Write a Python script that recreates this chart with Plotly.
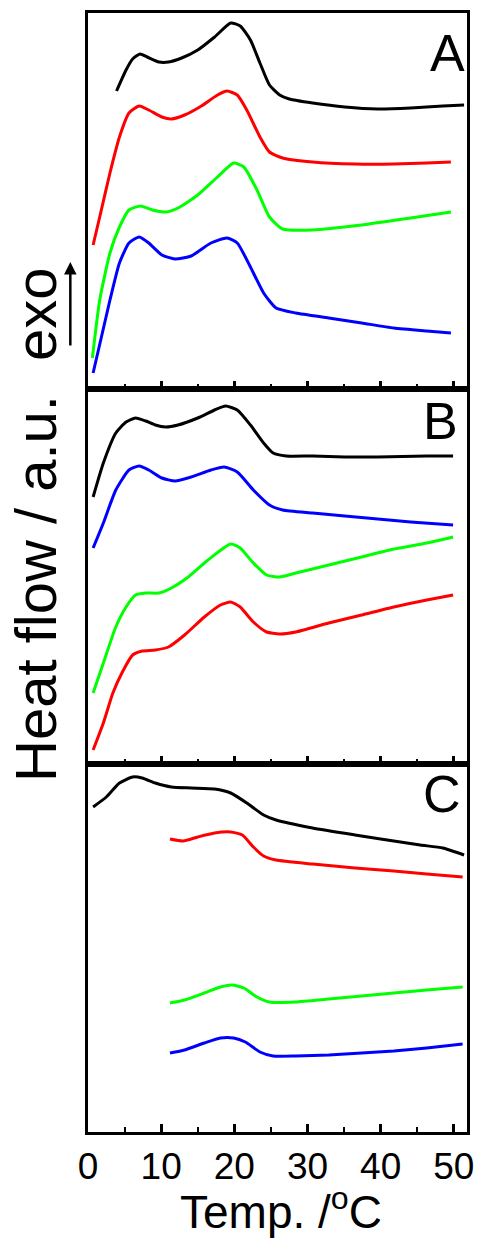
import plotly.graph_objects as go
from plotly.subplots import make_subplots

FONT = "Liberation Sans, Arial, sans-serif"

# ---------------- Data (Temp. in degC, heat flow in a.u., offset per curve) ----------------
# Panel A
a_black_x = [3.9, 5.2, 6.1, 7.1, 8.1, 9.7, 11.0, 12.8, 15.0, 17.3, 19.5, 20.8, 22.2, 23.5, 24.8, 26.2, 27.5, 30.7, 35.1, 39.6, 44.1, 48.5, 51.4]
a_black_y = [298, 319, 330, 335, 332, 327, 327, 331, 339, 352, 366, 363, 349, 326, 304, 294, 290, 286, 282, 280, 281, 283, 284]

a_red_x = [0.7, 1.6, 3.0, 4.3, 5.6, 7.0, 8.3, 10.1, 11.4, 13.2, 15.5, 17.7, 19.0, 20.4, 21.7, 23.5, 24.8, 26.6, 30.7, 36.5, 41.8, 46.3, 49.6]
a_red_y = [144, 172, 216, 252, 276, 283, 279, 272, 270, 274, 283, 294, 298, 294, 279, 252, 237, 231, 227, 225, 225, 226, 227]

a_green_x = [0.6, 1.6, 3.0, 4.3, 5.6, 7.2, 8.8, 10.6, 12.3, 15.0, 17.7, 19.9, 21.3, 23.1, 24.8, 26.6, 30.7, 37.4, 44.1, 49.6]
a_green_y = [31, 89, 136, 162, 179, 183, 179, 177, 181, 194, 212, 226, 222, 199, 172, 160, 159, 164, 171, 177]

a_blue_x = [0.7, 3.0, 4.3, 5.6, 7.0, 8.3, 10.1, 11.9, 14.1, 16.8, 19.0, 20.4, 22.2, 24.0, 25.7, 28.4, 32.9, 37.4, 41.8, 46.3, 49.6]
a_blue_y = [16, 89, 126, 146, 152, 146, 134, 130, 133, 146, 151, 146, 122, 96, 81, 76, 71, 66, 61, 58, 56]

# Panel B
b_black_x = [0.7, 2.1, 3.8, 5.2, 6.5, 7.9, 9.2, 10.6, 12.3, 15.0, 17.3, 18.8, 20.4, 22.2, 24.0, 25.3, 27.1, 30.7, 35.1, 39.6, 46.3, 49.9]
b_black_y = [267, 301, 331, 342, 346, 343, 339, 337, 339, 346, 354, 358, 354, 339, 321, 311, 308, 308, 307, 307, 308, 308]

b_blue_x = [0.7, 2.1, 3.8, 5.6, 7.0, 8.3, 10.1, 11.9, 14.1, 16.8, 18.6, 20.4, 22.6, 24.8, 26.6, 30.7, 35.1, 39.6, 44.1, 49.9]
b_blue_y = [216, 241, 274, 294, 298, 294, 286, 283, 287, 294, 297, 292, 274, 259, 254, 251, 248, 245, 242, 239]

b_green_x = [0.7, 2.1, 3.8, 5.2, 6.5, 7.9, 9.7, 11.4, 13.7, 16.4, 19.5, 20.8, 22.6, 24.4, 26.2, 28.4, 32.9, 37.4, 41.8, 46.3, 49.9]
b_green_y = [71, 101, 137, 157, 169, 171, 171, 176, 187, 204, 220, 216, 201, 189, 187, 191, 199, 207, 215, 221, 227]

b_red_x = [0.7, 2.1, 3.4, 4.7, 6.1, 7.4, 9.2, 11.0, 13.2, 15.9, 18.1, 19.5, 20.8, 22.6, 24.4, 26.2, 28.4, 32.9, 37.4, 41.8, 46.3, 49.9]
b_red_y = [14, 41, 71, 92, 109, 113, 114, 117, 129, 147, 159, 162, 157, 142, 132, 130, 132, 141, 149, 157, 164, 169]

# Panel C
c_black_x = [0.7, 2.5, 4.3, 6.1, 7.4, 9.2, 11.4, 14.1, 17.3, 19.5, 21.7, 24.0, 25.7, 30.7, 36.5, 40.0, 45.4, 48.5, 51.4]
c_black_y = [325, 335, 349, 355, 354, 349, 345, 344, 343, 339, 329, 317, 312, 304, 297, 293, 287, 284, 277]

c_red_x = [11.2, 13.0, 15.0, 17.3, 19.5, 21.1, 22.6, 24.0, 25.7, 30.7, 36.5, 41.8, 46.3, 51.2]
c_red_y = [293, 291, 295, 299, 300, 297, 285, 276, 272, 268, 264, 261, 258, 255]

c_green_x = [11.2, 13.2, 15.9, 18.1, 19.7, 21.3, 23.1, 24.8, 28.4, 32.9, 37.4, 41.8, 46.3, 51.2]
c_green_y = [129, 132, 139, 145, 147, 144, 135, 130, 130, 133, 136, 139, 142, 145]

c_blue_x = [11.2, 13.2, 15.9, 18.1, 19.9, 21.5, 23.5, 25.3, 28.4, 32.9, 37.4, 41.8, 46.3, 51.2]
c_blue_y = [79, 82, 89, 94, 94, 90, 80, 76, 76, 77, 79, 81, 84, 88]

tick_vals = [0, 10, 20, 30, 40, 50]
tick_text = ["0", "10", "20", "30", "40", "50"]
panel_labels = ["A", "B", "C"]
panel_heights = [376, 375, 368]

BLACK, RED, GREEN, BLUE = "#000000", "#ff0000", "#00ff00", "#0000ff"

panels = [
    [(a_black_x, a_black_y, BLACK), (a_red_x, a_red_y, RED), (a_green_x, a_green_y, GREEN), (a_blue_x, a_blue_y, BLUE)],
    [(b_black_x, b_black_y, BLACK), (b_blue_x, b_blue_y, BLUE), (b_green_x, b_green_y, GREEN), (b_red_x, b_red_y, RED)],
    [(c_black_x, c_black_y, BLACK), (c_red_x, c_red_y, RED), (c_green_x, c_green_y, GREEN), (c_blue_x, c_blue_y, BLUE)],
]

fig = make_subplots(rows=3, cols=1, shared_xaxes=True, vertical_spacing=0,
                    row_heights=panel_heights)

for r, curves in enumerate(panels, start=1):
    for xs, ys, col in curves:
        fig.add_trace(go.Scatter(x=xs, y=ys, mode="lines",
                                 line=dict(color=col, width=3, shape="spline", smoothing=0.55),
                                 showlegend=False, hoverinfo="skip"),
                      row=r, col=1)
    fig.update_yaxes(range=[0, panel_heights[r - 1]], showline=True, linecolor="black",
                     linewidth=3, mirror=True, showgrid=False, zeroline=False,
                     showticklabels=False, ticks="", row=r, col=1)
    fig.update_xaxes(range=[0, 51.8], showline=True, linecolor="black", linewidth=3,
                     mirror=True, showgrid=False, zeroline=False,
                     ticks="inside", ticklen=8, tickwidth=2.5, tickcolor="black",
                     tickvals=tick_vals, ticktext=tick_text,
                     minor=dict(ticks="inside", dtick=5, tick0=0, ticklen=5,
                                tickwidth=2, tickcolor="black", showgrid=False),
                     row=r, col=1)

fig.update_xaxes(showticklabels=True, tickfont=dict(family=FONT, size=37, color="black"),
                 row=3, col=1)

W, H = 484, 1240
L, R, T, B = 88, 10, 13, 108
pw, ph = W - L - R, H - T - B


def px(x):
    return (x - L) / pw


def py(y):
    return (H - B - y) / ph


annotations = []
label_pos = [(454, 53), (447, 421), (449, 794)]
for lab, (lx, ly) in zip(panel_labels, label_pos):
    annotations.append(dict(x=px(lx), y=py(ly), xref="paper", yref="paper", text=lab,
                            showarrow=False, xanchor="center", yanchor="middle",
                            font=dict(family=FONT, size=52, color="black")))

annotations.append(dict(x=px(34), y=py(588), xref="paper", yref="paper",
                        text="Heat flow / a.u.", textangle=-90, showarrow=False,
                        xanchor="center", yanchor="middle",
                        font=dict(family=FONT, size=58, color="black")))
annotations.append(dict(x=px(34), y=py(314), xref="paper", yref="paper",
                        text="exo", textangle=-90, showarrow=False,
                        xanchor="center", yanchor="middle",
                        font=dict(family=FONT, size=58, color="black")))
annotations.append(dict(x=px(70), y=py(262), xref="paper", yref="paper",
                        ax=0, ay=85, axref="pixel", ayref="pixel",
                        text="", showarrow=True, arrowhead=2, arrowsize=1,
                        arrowwidth=2.5, arrowcolor="black"))
annotations.append(dict(x=px(285), y=py(1239), xref="paper", yref="paper",
                        text="Temp. /<sup>o</sup>C", showarrow=False,
                        xanchor="center", yanchor="bottom", borderpad=0,
                        font=dict(family=FONT, size=46, color="black")))

fig.update_layout(width=W, height=H, margin=dict(l=L, r=R, t=T, b=B),
                  paper_bgcolor="white", plot_bgcolor="white",
                  annotations=annotations)

fig.write_html("out.html")
